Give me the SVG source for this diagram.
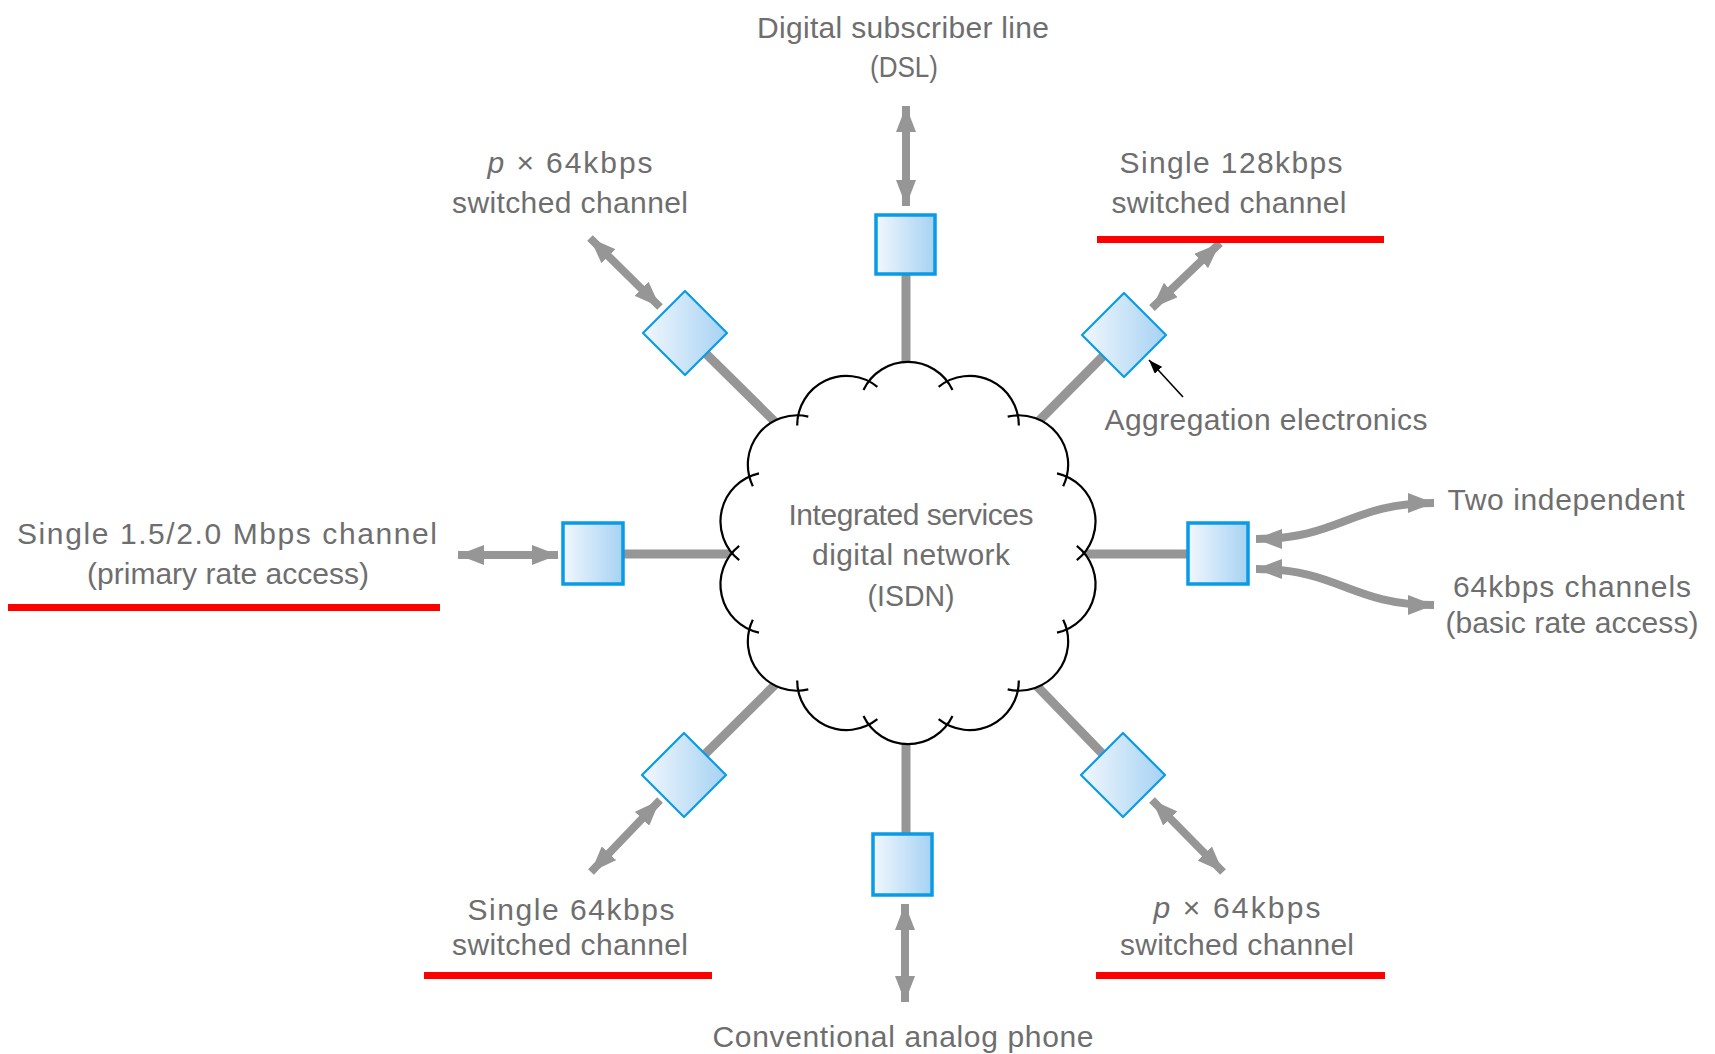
<svg xmlns="http://www.w3.org/2000/svg" width="1715" height="1054" viewBox="0 0 1715 1054">
<style>
  .lbl { font-family: "Liberation Sans", Arial, sans-serif; font-size: 30px; fill: #6e6e6e; text-anchor: middle; }
  .link { stroke: #969696; stroke-width: 9; fill: none; }
  .arr { stroke: #969696; stroke-width: 8; fill: none; marker-start: url(#ah); marker-end: url(#ah); }
  .sq { fill: url(#grad); stroke: #0a9be6; stroke-width: 3.5; }
  .dia { fill: url(#grad); stroke: #0a9be6; stroke-width: 2.2; stroke-linejoin: round; }
  .red { fill: #ff0000; }
  .arc { fill: none; stroke: #000; stroke-width: 2.2; }
</style>
<defs>
  <linearGradient id="grad" x1="0" y1="0" x2="1" y2="0">
    <stop offset="0" stop-color="#f1f7fd"/>
    <stop offset="1" stop-color="#a6d2f3"/>
  </linearGradient>
  <marker id="ah" viewBox="0 0 26 20" refX="26" refY="10" markerWidth="26" markerHeight="20" markerUnits="userSpaceOnUse" orient="auto-start-reverse">
    <path d="M0,0 L26,10 L0,20 Z" fill="#969696"/>
  </marker>
  <marker id="ahb" viewBox="0 0 14 10" refX="14" refY="5" markerWidth="14" markerHeight="10" markerUnits="userSpaceOnUse" orient="auto">
    <path d="M0,0 L14,5 L0,10 Z" fill="#000"/>
  </marker>
  <circle id="bc" cx="0" cy="-141.7" r="49.3"/>
  <path id="ba" d="M -44.5 -163 A 49.3 49.3 0 0 1 44.5 -163"/>
</defs>
<rect width="1715" height="1054" fill="#ffffff"/>

<g id="connectors">
  <line class="link" x1="906" y1="245" x2="906" y2="553"/>
  <line class="link" x1="906" y1="553" x2="906" y2="865"/>
  <line class="link" x1="593" y1="554" x2="908" y2="554"/>
  <line class="link" x1="908" y1="554" x2="1218" y2="554"/>
  <line class="link" x1="685" y1="333" x2="908" y2="553"/>
  <line class="link" x1="1124" y1="335" x2="908" y2="553"/>
  <line class="link" x1="684" y1="775" x2="908" y2="553"/>
  <line class="link" x1="1123" y1="775" x2="908" y2="553"/>

  <line class="arr" x1="906" y1="106" x2="906" y2="206"/>
  <line class="arr" x1="590" y1="238" x2="660" y2="307"/>
  <line class="arr" x1="1220" y1="243" x2="1152" y2="308"/>
  <line class="arr" x1="458" y1="555" x2="558" y2="555"/>
  <path class="arr" d="M1256,539 C1340,539 1350,503 1434,503"/>
  <path class="arr" d="M1256,569 C1340,569 1350,605 1434,605"/>
  <line class="arr" x1="660" y1="800" x2="591" y2="872"/>
  <line class="arr" x1="905" y1="904" x2="905" y2="1002"/>
  <line class="arr" x1="1152" y1="800" x2="1223" y2="872"/>
  <line x1="1183" y1="397" x2="1149" y2="360" stroke="#000" stroke-width="1.6" marker-end="url(#ahb)"/>
</g>

<g id="cloud-isdn">
  <g transform="translate(908,553)" fill="#ffffff">
    <circle cx="0" cy="0" r="176"/>
    <use href="#bc"/>
    <use href="#bc" transform="rotate(25.714)"/>
    <use href="#bc" transform="rotate(51.429)"/>
    <use href="#bc" transform="rotate(77.143)"/>
    <use href="#bc" transform="rotate(102.857)"/>
    <use href="#bc" transform="rotate(128.571)"/>
    <use href="#bc" transform="rotate(154.286)"/>
    <use href="#bc" transform="rotate(180)"/>
    <use href="#bc" transform="rotate(205.714)"/>
    <use href="#bc" transform="rotate(231.429)"/>
    <use href="#bc" transform="rotate(257.143)"/>
    <use href="#bc" transform="rotate(282.857)"/>
    <use href="#bc" transform="rotate(308.571)"/>
    <use href="#bc" transform="rotate(334.286)"/>
  </g>
  <g transform="translate(908,553)" class="arc">
    <use href="#ba"/>
    <use href="#ba" transform="rotate(25.714)"/>
    <use href="#ba" transform="rotate(51.429)"/>
    <use href="#ba" transform="rotate(77.143)"/>
    <use href="#ba" transform="rotate(102.857)"/>
    <use href="#ba" transform="rotate(128.571)"/>
    <use href="#ba" transform="rotate(154.286)"/>
    <use href="#ba" transform="rotate(180)"/>
    <use href="#ba" transform="rotate(205.714)"/>
    <use href="#ba" transform="rotate(231.429)"/>
    <use href="#ba" transform="rotate(257.143)"/>
    <use href="#ba" transform="rotate(282.857)"/>
    <use href="#ba" transform="rotate(308.571)"/>
    <use href="#ba" transform="rotate(334.286)"/>
  </g>
  <text class="lbl" x="911" y="525" textLength="245">Integrated services</text>
  <text class="lbl" x="911" y="565" textLength="198">digital network</text>
  <text class="lbl" x="911" y="606" textLength="87" lengthAdjust="spacingAndGlyphs">(ISDN)</text>
</g>

<g id="node-dsl">
  <rect class="sq" x="876" y="215" width="59" height="59"/>
  <text class="lbl" x="903" y="38" textLength="292">Digital subscriber line</text>
  <text class="lbl" x="904" y="77" textLength="68" lengthAdjust="spacingAndGlyphs">(DSL)</text>
</g>

<g id="node-top-left">
  <polygon class="dia" points="685,291 727,333 685,375 643,333"/>
  <text class="lbl" x="570" y="173" textLength="165"><tspan font-style="italic">p</tspan> × 64kbps</text>
  <text class="lbl" x="570" y="213" textLength="236">switched channel</text>
</g>

<g id="node-top-right">
  <polygon class="dia" points="1124,293 1166,335 1124,377 1082,335"/>
  <text class="lbl" x="1231" y="173" textLength="223">Single 128kbps</text>
  <text class="lbl" x="1229" y="213" textLength="235">switched channel</text>
  <rect class="red" x="1097" y="236" width="287" height="7"/>
  <text class="lbl" x="1266" y="430" textLength="323">Aggregation electronics</text>
</g>

<g id="node-left">
  <rect class="sq" x="563" y="523" width="60" height="61"/>
  <text class="lbl" x="227" y="544" textLength="420">Single 1.5/2.0 Mbps channel</text>
  <text class="lbl" x="228" y="584" textLength="282">(primary rate access)</text>
  <rect class="red" x="8" y="604" width="432" height="7"/>
</g>

<g id="node-right">
  <rect class="sq" x="1188" y="523" width="60" height="61"/>
  <text class="lbl" x="1566" y="510" textLength="237">Two independent</text>
  <text class="lbl" x="1572" y="597" textLength="238">64kbps channels</text>
  <text class="lbl" x="1572" y="633" textLength="253">(basic rate access)</text>
</g>

<g id="node-bottom-left">
  <polygon class="dia" points="684,733 726,775 684,817 642,775"/>
  <text class="lbl" x="571" y="920" textLength="207">Single 64kbps</text>
  <text class="lbl" x="570" y="955" textLength="236">switched channel</text>
  <rect class="red" x="424" y="972" width="288" height="7"/>
</g>

<g id="node-bottom">
  <rect class="sq" x="873" y="834" width="59" height="61"/>
  <text class="lbl" x="903" y="1047" textLength="381">Conventional analog phone</text>
</g>

<g id="node-bottom-right">
  <polygon class="dia" points="1123,733 1165,775 1123,817 1081,775"/>
  <text class="lbl" x="1237" y="918" textLength="167"><tspan font-style="italic">p</tspan> × 64kbps</text>
  <text class="lbl" x="1237" y="955" textLength="234">switched channel</text>
  <rect class="red" x="1096" y="972" width="289" height="7"/>
</g>
</svg>
